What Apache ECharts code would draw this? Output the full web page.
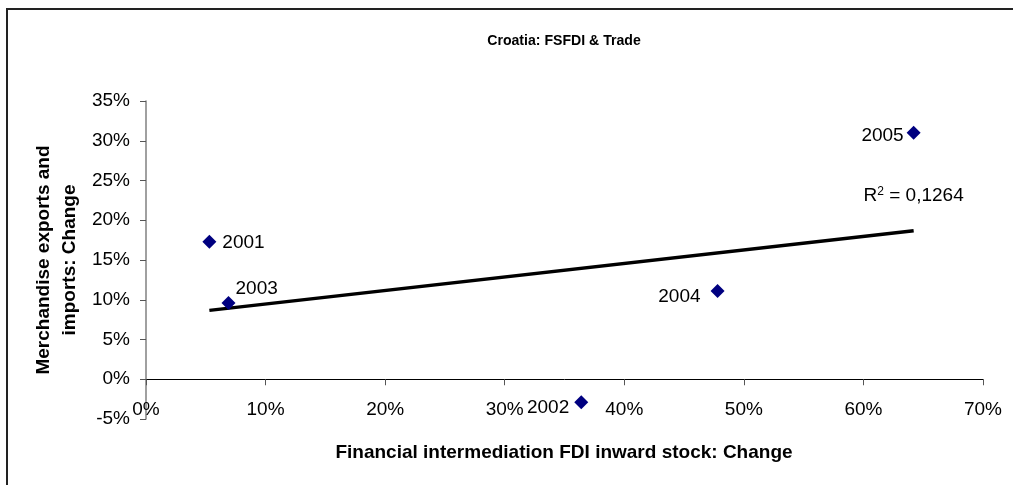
<!DOCTYPE html>
<html>
<head>
<meta charset="utf-8">
<script src="https://cdn.jsdelivr.net/npm/echarts@6/dist/echarts.min.js"></script>
<style>
  html, body { margin: 0; padding: 0; background: #fff; }
  #chart { width: 1013px; height: 485px; }
</style>
</head>
<body>
<div id="chart"></div>
<script>
// values in percent
const years = ['2001', '2002', '2003', '2004', '2005'];
const fdiChange = [5.3, 36.4, 6.9, 47.8, 64.2];
const tradeChange = [17.3, -2.9, 9.6, 11.1, 31.0];
const rSquaredText = '0,1264';
const xTicks = [0, 10, 20, 30, 40, 50, 60, 70];
const yTicks = [-5, 0, 5, 10, 15, 20, 25, 30, 35];

// label side for each year, as in the picture
const labelSide = {
  '2001': { position: 'right', distance: 6, offset: [0, 1] },
  '2002': { position: 'left', distance: 5, offset: [0, 5] },
  '2003': { position: 'right', distance: 0, offset: [0, -14] },
  '2004': { position: 'left', distance: 10, offset: [0, 6] },
  '2005': { position: 'left', distance: 3, offset: [0, 3] }
};

// linear trend (least squares) over the points
const n = fdiChange.length;
const mx = fdiChange.reduce((a, b) => a + b, 0) / n;
const my = tradeChange.reduce((a, b) => a + b, 0) / n;
let sxy = 0, sxx = 0;
for (let i = 0; i < n; i++) {
  sxy += (fdiChange[i] - mx) * (tradeChange[i] - my);
  sxx += (fdiChange[i] - mx) * (fdiChange[i] - mx);
}
const slope = sxy / sxx;
const icept = my - slope * mx;
const xLo = Math.min(...fdiChange), xHi = Math.max(...fdiChange);

const font = 'Arial, "Liberation Sans", sans-serif';

// the x axis sits on the 0% line: shift it up by one y step
const gridTop = 101, gridBottom = 66, plotH = 485 - gridTop - gridBottom;
const xAxisShift = plotH * (0 - yTicks[0]) / (yTicks[yTicks.length - 1] - yTicks[0]);

const chart = echarts.init(document.getElementById('chart'));
chart.setOption({
  animation: false,
  backgroundColor: '#fff',
  textStyle: { fontFamily: font },
  grid: { left: 146, right: 30, top: gridTop, bottom: gridBottom },
  xAxis: {
    type: 'value',
    min: xTicks[0],
    max: xTicks[xTicks.length - 1],
    interval: 10,
    offset: -xAxisShift,
    axisLine: { onZero: false, lineStyle: { color: '#000', width: 1 } },
    axisTick: { show: true, length: 6, lineStyle: { color: '#555' } },
    axisLabel: { formatter: '{value}%', fontSize: 19, color: '#000', margin: 21 },
    splitLine: { show: false }
  },
  yAxis: {
    type: 'value',
    min: yTicks[0],
    max: yTicks[yTicks.length - 1],
    interval: 5,
    axisLine: { show: true, onZero: false, lineStyle: { color: '#808080', width: 1.5 } },
    axisTick: { show: true, length: 6, lineStyle: { color: '#555' } },
    axisLabel: { formatter: '{value}%', fontSize: 19, color: '#000', margin: 16 },
    splitLine: { show: false }
  },
  graphic: [
    {
      type: 'rect',
      shape: { x: 7, y: 9, width: 1200, height: 700 },
      style: { fill: 'none', stroke: '#222', lineWidth: 2 },
      silent: true
    },
    {
      type: 'text',
      x: 564,
      y: 41,
      scaleX: 0.94,
      style: {
        text: 'Croatia: FSFDI & Trade',
        font: 'bold 15px ' + font,
        fill: '#000',
        align: 'center',
        verticalAlign: 'middle'
      }
    },
    {
      type: 'text',
      x: 564,
      y: 453,
      style: {
        text: 'Financial intermediation FDI inward stock: Change',
        font: 'bold 19px ' + font,
        fill: '#000',
        align: 'center',
        verticalAlign: 'middle'
      }
    },
    {
      type: 'text',
      x: 57,
      y: 260,
      rotation: Math.PI / 2,
      style: {
        text: 'Merchandise exports and\nimports: Change',
        font: 'bold 19px ' + font,
        fill: '#000',
        align: 'center',
        verticalAlign: 'middle',
        lineHeight: 26
      }
    }
  ],
  series: [
    {
      type: 'line',
      data: [[xLo, icept + slope * xLo], [xHi, icept + slope * xHi]],
      showSymbol: false,
      symbol: 'none',
      lineStyle: { color: '#000', width: 3.5 },
      z: 2,
      markPoint: {
        symbol: 'circle',
        symbolSize: 0,
        data: [{ coord: [xHi, icept + slope * xHi] }],
        label: {
          show: true,
          position: 'top',
          distance: 25,
          formatter: '{a|R}{s|2}{a| = ' + rSquaredText + '}',
          rich: {
            a: { fontSize: 19, color: '#000', fontFamily: font },
            s: { fontSize: 12, color: '#000', fontFamily: font, verticalAlign: 'top', padding: [0, 0, 8, 0] }
          }
        }
      }
    },
    {
      type: 'scatter',
      symbol: 'diamond',
      symbolSize: 14,
      z: 3,
      itemStyle: { color: '#000080', opacity: 1 },
      data: years.map((y, i) => ({
        value: [fdiChange[i], tradeChange[i]],
        name: y,
        label: Object.assign({
          show: true,
          formatter: y,
          fontSize: 19,
          color: '#000'
        }, labelSide[y])
      }))
    }
  ]
});
</script>
</body>
</html>
